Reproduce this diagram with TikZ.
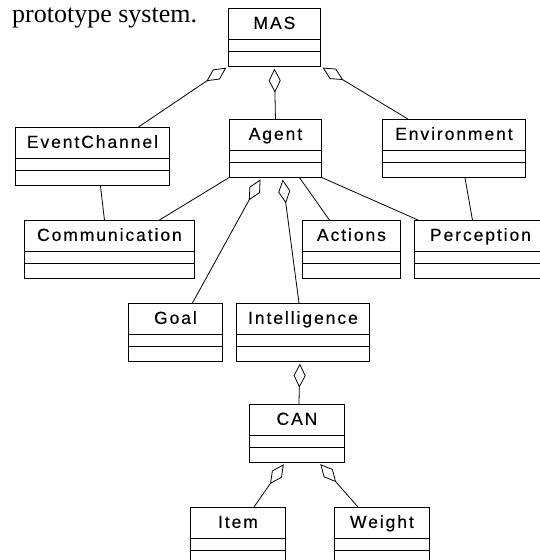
\documentclass[tikz,border=0pt]{standalone}
\usepackage{fontspec}
\setmainfont{Liberation Serif}
\newfontfamily\umlfont[LetterSpace=11,FakeBold=0.3]{Liberation Sans}
\usetikzlibrary{shapes.multipart,arrows.meta}
\newcommand{\umlbox}[1]{%
	\rule[-10pt]{0pt}{30pt}#1%
	\nodepart{two}\rule{0pt}{11pt}%
	\nodepart{three}\rule{0pt}{14pt}}

\begin{document}
\begin{tikzpicture}[x=1pt,y=-1pt,
	umlclass/.style={rectangle split,rectangle split parts=3,draw,line width=0.9pt,
		anchor=north west,inner xsep=0pt,inner ysep=0pt,
		font=\umlfont\fontsize{17.5}{19}\selectfont},
	agg/.style={line width=0.8pt,-{Diamond[open,length=24pt,width=12pt]},shorten >=2pt},
	assoc/.style={line width=0.8pt}]

\useasboundingbox (0,0) rectangle (540,560);
\clip (0,0) rectangle (540,560);

%%%%%%%%%%%%%%%%%%%%%%%%%%%%%%%%%%%%%%

\node[anchor=base west,inner sep=0pt,font=\fontsize{26}{29}\selectfont] (caption) at (12,22) {prototype system.};

\node[umlclass,minimum width=92pt] (mas) at (228,8) {\umlbox{MAS}};

\node[umlclass,minimum width=154pt] (ec) at (15,127) {\umlbox{EventChannel}};
\node[umlclass,minimum width=92pt] (agent) at (229,119) {\umlbox{Agent}};
\node[umlclass,minimum width=143pt] (env) at (382,119) {\umlbox{Environment}};

%%%%%%%%%%%%%%%%%%%%%%%%%%%%%%%%%%%%%%

\node[umlclass,minimum width=170pt] (comm) at (24,220) {\umlbox{Communication}};
\node[umlclass,minimum width=98pt] (act) at (302,220) {\umlbox{Actions}};
\node[umlclass,minimum width=132pt] (perc) at (414,220) {\umlbox{Perception}};

\node[umlclass,minimum width=94pt] (goal) at (128,303) {\umlbox{Goal}};
\node[umlclass,minimum width=133pt] (intel) at (236,303) {\umlbox{Intelligence}};

%%%%%%%%%%%%%%%%%%%%%%%%%%%%%%%%%%%%%%

\node[umlclass,minimum width=95pt] (can) at (249,404) {\umlbox{CAN}};
\node[umlclass,minimum width=95pt] (item) at (190,507) {\umlbox{Item}};
\node[umlclass,minimum width=95pt] (weight) at (334,507) {\umlbox{Weight}};

%%%%%%%%%%%%%%%%%%%%%%%%%%%%%%%%%%%%%%

\draw[agg] ([xshift=46pt]ec.north) -- (mas.south west);
\draw[agg] (agent.north) -- (mas.south);
\draw[agg] ([xshift=-46pt]env.north) -- (mas.south east);

\draw[assoc] ([xshift=8pt]ec.south) -- ([xshift=-5pt]comm.north);
\draw[assoc] ([xshift=11pt]env.south) -- ([xshift=-8pt]perc.north);

\draw[assoc] (agent.south west) -- ([xshift=50pt]comm.north);
\draw[agg] ([xshift=17pt]goal.north) -- ([xshift=-14pt]agent.south);
\draw[agg] ([xshift=-4pt]intel.north) -- ([xshift=7pt]agent.south);
\draw[assoc] ([xshift=24pt]agent.south) -- ([xshift=-22pt]act.north);
\draw[assoc] (agent.south east) -- ([xshift=4pt]perc.north west);

\draw[agg] ([xshift=2pt]can.north) -- ([xshift=-3pt]intel.south);
\draw[agg] ([xshift=16pt]item.north) -- ([xshift=-12pt]can.south);
\draw[agg] ([xshift=-24pt]weight.north) -- ([xshift=22pt]can.south);

\end{tikzpicture}
\end{document}
